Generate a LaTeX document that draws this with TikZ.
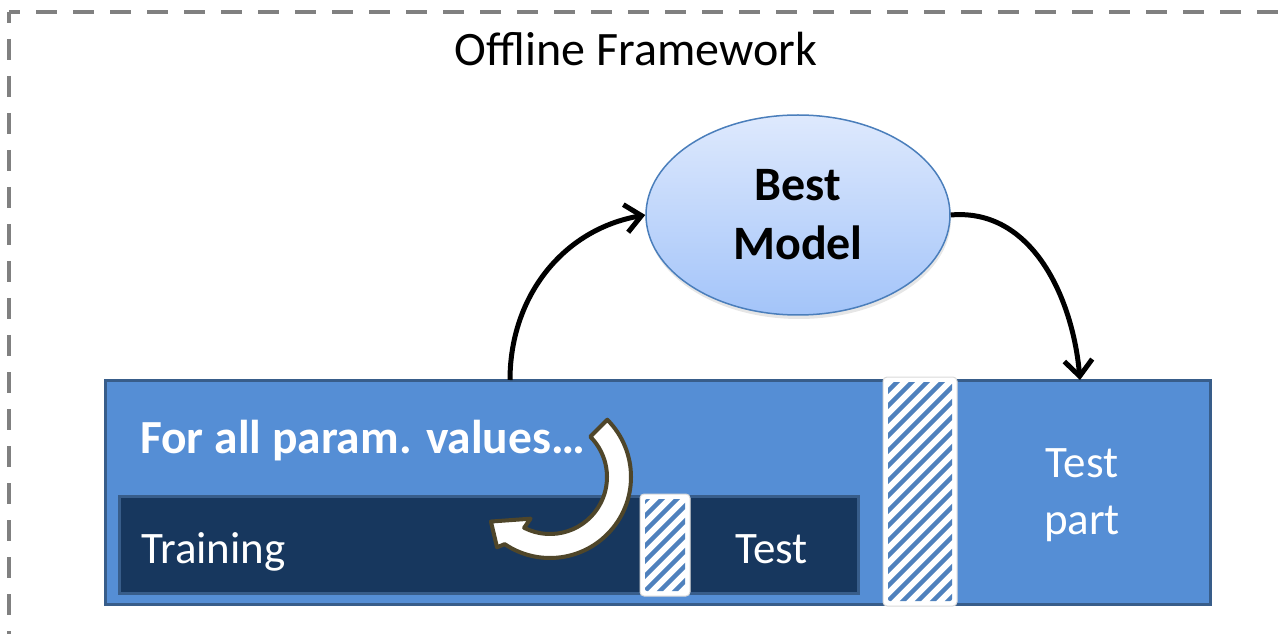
\documentclass[tikz,border=0pt]{standalone}
\usepackage{fontspec}
\setmainfont{Carlito}
\usetikzlibrary{arrows.meta,shapes.geometric,shadows}
\definecolor{partblue}{RGB}{85,142,213}
\definecolor{edgeblue}{RGB}{56,93,138}
\definecolor{navyblue}{RGB}{23,55,94}
\definecolor{stripeblue}{RGB}{79,129,189}
\definecolor{ovaltop}{RGB}{222,233,253}
\definecolor{ovalbot}{RGB}{163,196,249}
\definecolor{ovaledge}{RGB}{74,126,187}
\definecolor{loopedge}{RGB}{79,70,42}

\begin{document}
\begin{tikzpicture}[x=1pt,y=1pt,
    frame/.style={draw=black!50,line width=4.5pt,dash pattern=on 21pt off 16pt,dash phase=10pt},
    hatchbox/.style={draw=black!15,line width=1pt,fill=white,rounded corners=4pt,inner sep=0pt},
    stripe/.style={stripeblue,line width=4.5pt},
    flow/.style={line width=5pt,-{Straight Barb[length=16pt,width=28pt]}},
    lbl/.style={text=white,inner sep=0pt,font=\fontsize{45}{57}\selectfont}]
    \useasboundingbox (0,0) rectangle (1278,633);
    % dashed frame
    \draw[frame] (9,621) -- (1400,621);
    \draw[frame] (9,621) -- (9,-60);
    \node[anchor=base,inner sep=0pt,font=\fontsize{48}{56}\selectfont] (title) at (636,567) {Offline Framework};

    % data blocks
    \node[draw=edgeblue,line width=3pt,fill=partblue,minimum width=1105pt,minimum height=224pt,inner sep=0pt] (data) at (657.5,141) {};
    \node[draw=edgeblue,line width=3pt,fill=navyblue,minimum width=739pt,minimum height=97pt,inner sep=0pt] (split) at (488.5,88.5) {};
    \node[lbl,anchor=base west] (train) at (141,70) {Training};
    \node[lbl,anchor=base west] (valid) at (735,70) {Test};
    \node[lbl,align=center] (testpart) at (1082,138) {Test\\part};
    \node[text=white,inner sep=0pt,anchor=base west,font=\fontsize{47.5}{56}\selectfont\bfseries] (loop) at (140,180) {For all param. values…};

    % hatched separators
    \node[hatchbox,minimum width=50pt,minimum height=102pt] (gap1) at (665,88) {};
    \node[hatchbox,minimum width=74pt,minimum height=229pt] (gap2) at (920,141.5) {};
    \begin{scope}
        \clip[rounded corners=2pt] (645,42) rectangle (685,134);
        \foreach \c in {-45,-30,...,105} \draw[stripe] (640,37+\c) -- ++(60,60);
    \end{scope}
    \begin{scope}
        \clip[rounded corners=2pt] (888,32) rectangle (952,251);
        \foreach \c in {-75,-60,...,240} \draw[stripe] (883,27+\c) -- ++(80,80);
    \end{scope}

    % loop arrow
    \begin{scope}[shift={(550,156)}]
        \draw[line width=4pt,draw=loopedge,fill=white,line join=round] (45:81pt) arc[start angle=45,end angle=-124,radius=81pt] -- (-127:88pt) -- (-143:74pt) -- (-115:46pt) -- (-117:57pt) arc[start angle=-117,end angle=45,radius=57pt] -- cycle;
    \end{scope}

    % best model
    \node[ellipse,draw=ovaledge,line width=1.5pt,top color=ovaltop,bottom color=ovalbot,minimum width=304pt,minimum height=200pt,inner sep=0pt,align=center,font=\fontsize{48}{59}\selectfont\bfseries,drop shadow={shadow xshift=1pt,shadow yshift=-4pt,opacity=.2}] (model) at (798,418) {Best\\Model};
    \coordinate (up) at (510,253);
    \coordinate (down) at (1080,253);
    \draw[flow] (up) to[out=90,in=190] (model.west);
    \draw[flow] (model.east) to[out=5,in=95] (down);
\end{tikzpicture}
\end{document}
